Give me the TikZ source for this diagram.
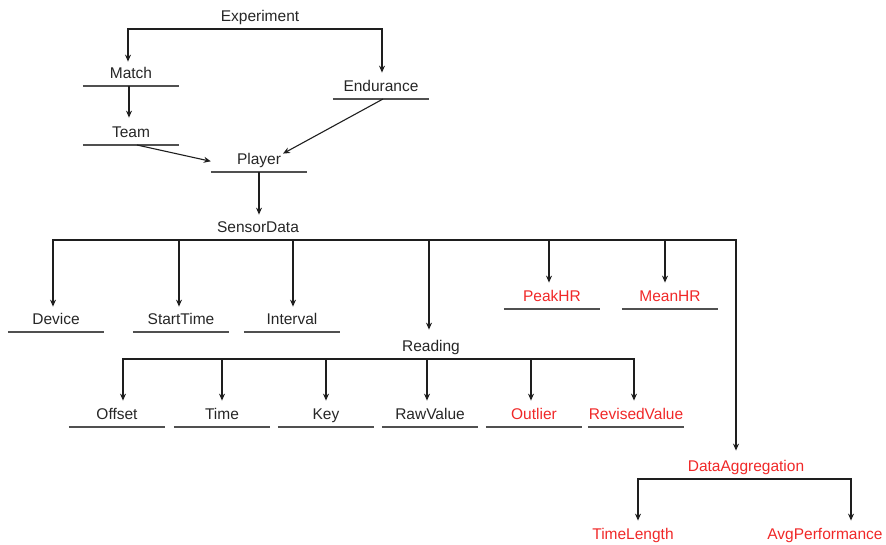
\documentclass[tikz,border=0pt]{standalone}
\usepackage{fontspec}
\setmainfont{Liberation Sans}
\usetikzlibrary{arrows.meta}
\definecolor{redtxt}{RGB}{240,40,40}
\definecolor{ulgray}{RGB}{80,80,80}
\definecolor{linegray}{RGB}{30,30,30}
\begin{document}
\begin{tikzpicture}[x=1pt,y=-1pt,
  lbl/.style={anchor=south, inner xsep=0pt, inner ysep=3pt, text height=11pt, text depth=4pt,
    minimum width=96pt, font=\fontsize{15.5}{18}\selectfont, text=black!85},
  rlbl/.style={lbl, text=redtxt},
  ul/.style={draw=ulgray, line width=1.2pt},
  arr/.style={draw=linegray, line width=1.1pt, -{Stealth[length=7pt,width=6pt]}}]
\useasboundingbox (0,0) rectangle (886,544);
% nodes (position = centre of the underline)
\node[lbl] (experiment) at (260,29) {Experiment};
\node[lbl] (match) at (131,86) {Match};
\node[lbl] (endurance) at (381,99) {Endurance};
\node[lbl] (team) at (131,145) {Team};
\node[lbl] (player) at (259,172) {Player};
\node[lbl] (sensordata) at (258,240) {SensorData};
\node[lbl] (device) at (56,332) {Device};
\node[lbl] (starttime) at (181,332) {StartTime};
\node[lbl] (interval) at (292,332) {Interval};
\node[rlbl] (peakhr) at (552,309) {PeakHR};
\node[rlbl] (meanhr) at (670,309) {MeanHR};
\node[lbl] (reading) at (431,359) {Reading};
\node[lbl] (offset) at (117,427) {Offset};
\node[lbl] (time) at (222,427) {Time};
\node[lbl] (key) at (326,427) {Key};
\node[lbl] (rawvalue) at (430,427) {RawValue};
\node[rlbl] (outlier) at (534,427) {Outlier};
\node[rlbl] (revisedvalue) at (636,427) {RevisedValue};
\node[rlbl] (dataagg) at (746,479) {DataAggregation};
\node[rlbl] (timelength) at (633,547) {TimeLength};
\node[rlbl] (avgperf) at (825,547) {AvgPerformance};
% underlines
\foreach \n in {experiment,match,endurance,team,player,sensordata,device,starttime,interval,
  peakhr,meanhr,reading,offset,time,key,rawvalue,outlier,revisedvalue,dataagg}
  \draw[ul] (\n.south west) -- (\n.south east);
% connectors
\draw[arr] (experiment.south) -| ([xshift=-3pt,yshift=3pt]match.north);
\draw[arr] (experiment.south) -| ([xshift=1pt,yshift=5pt]endurance.north);
\draw[arr] ([xshift=-2pt]match.south) -- ([xshift=-2pt,yshift=6pt]team.north);
\draw[arr] ([xshift=6pt]team.south) -- (player.west);
\draw[arr] ([xshift=2pt]endurance.south) -- ([xshift=24pt,yshift=-3pt]player.north);
\draw[arr] (player.south) -- ([yshift=4pt]player.south |- sensordata.north);
% SensorData bus
\draw[arr] (sensordata.south) -| ([xshift=-3pt,yshift=4pt]device.north);
\draw[arr] (sensordata.south) -| ([xshift=-2pt,yshift=4pt]starttime.north);
\draw[arr] (sensordata.south) -| ([xshift=1pt,yshift=4pt]interval.north);
\draw[arr] (sensordata.south) -| ([xshift=-2pt,yshift=8pt]reading.north);
\draw[arr] (sensordata.south) -| ([xshift=-3pt,yshift=5pt]peakhr.north);
\draw[arr] (sensordata.south) -| ([xshift=-5pt,yshift=5pt]meanhr.north);
\draw[arr] (sensordata.south) -| ([xshift=-10pt,yshift=7pt]dataagg.north);
% Reading bus
\draw[arr] (reading.south) -| ([xshift=6pt,yshift=5pt]offset.north);
\draw[arr] (reading.south) -| ([yshift=5pt]time.north);
\draw[arr] (reading.south) -| ([yshift=5pt]key.north);
\draw[arr] (reading.south) -| ([xshift=-3pt,yshift=5pt]rawvalue.north);
\draw[arr] (reading.south) -| ([xshift=-3pt,yshift=5pt]outlier.north);
\draw[arr] (reading.south) -| ([xshift=-2pt,yshift=5pt]revisedvalue.north);
% DataAggregation bus
\draw[arr] (dataagg.south) -| ([xshift=5pt,yshift=5pt]timelength.north);
\draw[arr] (dataagg.south) -| ([xshift=26pt,yshift=5pt]avgperf.north);
\end{tikzpicture}
\end{document}
